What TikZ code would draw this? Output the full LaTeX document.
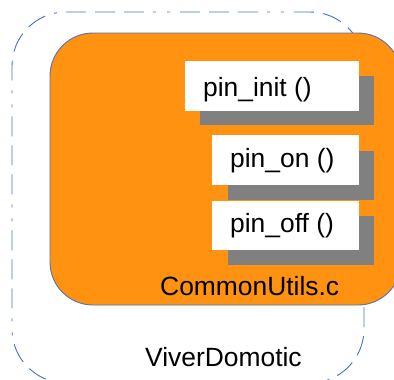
\documentclass[tikz,border=0pt]{standalone}
\usepackage{fontspec}
\setmainfont{Liberation Sans}
\definecolor{modorange}{RGB}{255,147,17}
\definecolor{modedge}{RGB}{84,116,176}
\definecolor{pkgline}{RGB}{68,114,196}
\definecolor{shadowgray}{RGB}{128,128,128}
\tikzset{
  pkgframe/.style={draw=pkgline, line width=0.9pt,
    dash pattern=on 20pt off 9pt on 20pt off 9pt on 20pt off 9pt on 3pt off 11pt on 3pt off 10pt},
  modframe/.style={draw=modedge, line width=0.9pt, fill=modorange},
  fnbox/.style={rectangle, fill=white, draw=none, inner sep=0pt, minimum height=50pt, anchor=north west},
  fnshadow/.style={fill=shadowgray, draw=none},
  lbl/.style={inner sep=0pt, font=\fontsize{26.4}{30}\selectfont},
}
\begin{document}
\begin{tikzpicture}[x=1pt, y=-1pt]
\useasboundingbox (0,0) rectangle (394,380);
\clip (0,0) rectangle (394,380);

% package frame (ViverDomotic), drawn clockwise from the top edge
\draw[pkgframe, rounded corners=54pt]
  (66,12) -- (364,12) -- (364,383) -- (12,383) -- (12,12) -- (66,12);
\node[lbl, anchor=base west] (pkg) at (145,366) {ViverDomotic};

% module CommonUtils.c
\draw[modframe, rounded corners=43pt] (50,33) rectangle (401,305);
\node[lbl, anchor=base west] (mod) at (160,295) {CommonUtils.c};

% pin_init ()
\fill[fnshadow] (200,76) rectangle (374,125);
\node[fnbox, minimum width=174pt] (init) at (185,61) {};
\node[lbl, anchor=base west] (initlbl) at (203,96.7) {pin\_init ()};

% pin_on ()
\fill[fnshadow] (228,151) rectangle (374,200);
\node[fnbox, minimum width=147pt] (on) at (212,135) {};
\node[lbl, anchor=base west] (onlbl) at (230,167.5) {pin\_on ()};

% pin_off ()
\fill[fnshadow] (228,216) rectangle (374,265);
\node[fnbox, minimum width=147pt, minimum height=49pt] (off) at (212,201) {};
\node[lbl, anchor=base west] (offlbl) at (230,232.7) {pin\_off ()};
\end{tikzpicture}
\end{document}
